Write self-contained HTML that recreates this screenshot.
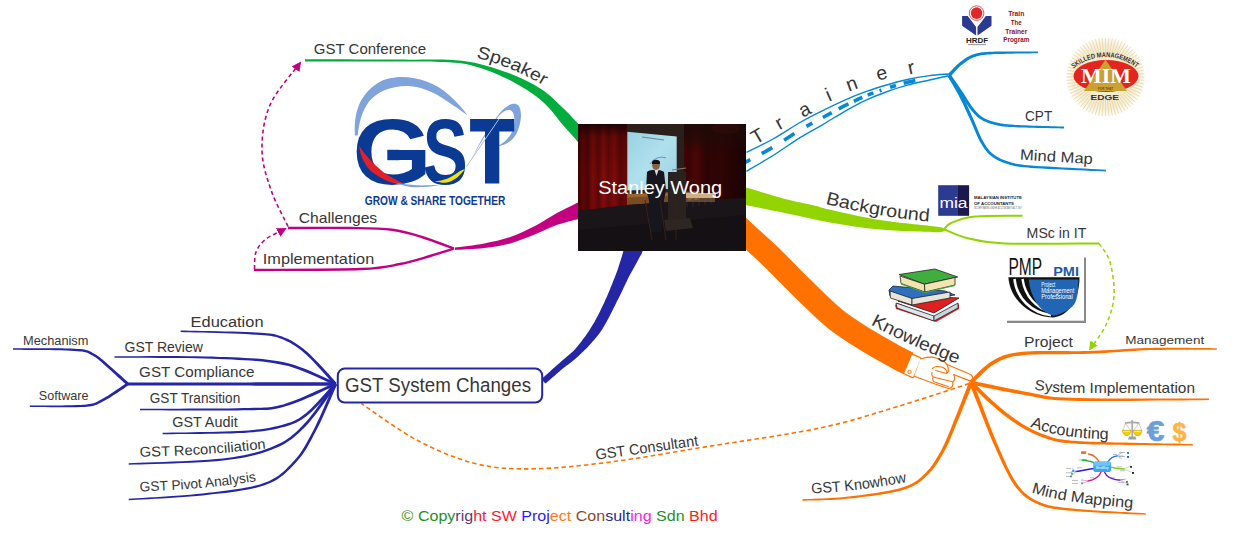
<!DOCTYPE html>
<html><head><meta charset="utf-8"><style>
html,body{margin:0;padding:0;background:#fff;}
body{width:1236px;height:536px;overflow:hidden;}
svg{display:block;font-family:"Liberation Sans", sans-serif;}
</style></head><body>
<svg width="1236" height="536" viewBox="0 0 1236 536">
<rect width="1236" height="536" fill="#fff"/>
<defs>
<marker id="arrM" viewBox="0 0 10 10" refX="8" refY="5" markerWidth="6" markerHeight="6" orient="auto"><path d="M0,0 L10,5 L0,10 Z" fill="#C40082"/></marker>
<marker id="arrL" viewBox="0 0 10 10" refX="8" refY="5" markerWidth="6" markerHeight="6" orient="auto"><path d="M0,0 L10,5 L0,10 Z" fill="#92D400"/></marker>
<linearGradient id="curt" x1="0" x2="1" y1="0" y2="0">
<stop offset="0" stop-color="#3a0303"/><stop offset="0.1" stop-color="#5e0606"/><stop offset="0.2" stop-color="#4a0505"/><stop offset="0.3" stop-color="#7a0a0a"/><stop offset="0.42" stop-color="#5a0606"/><stop offset="0.52" stop-color="#820c0c"/><stop offset="0.62" stop-color="#620707"/><stop offset="0.74" stop-color="#7e0b0b"/><stop offset="0.86" stop-color="#5a0606"/><stop offset="1" stop-color="#6a0808"/>
</linearGradient>
<linearGradient id="curtTop" x1="0" x2="0" y1="0" y2="1"><stop offset="0" stop-color="#120202" stop-opacity="0.85"/><stop offset="0.25" stop-color="#120202" stop-opacity="0.2"/><stop offset="1" stop-color="#120202" stop-opacity="0"/></linearGradient>
<linearGradient id="scr" x1="0" x2="1" y1="0" y2="1">
<stop offset="0" stop-color="#98d2e2"/><stop offset="0.5" stop-color="#b0e0ec"/><stop offset="1" stop-color="#9ccfe0"/>
</linearGradient>
<linearGradient id="curtR" x1="0" x2="1" y1="0" y2="0">
<stop offset="0" stop-color="#4e0606"/><stop offset="0.12" stop-color="#380404"/><stop offset="0.25" stop-color="#4a0606"/><stop offset="0.4" stop-color="#2c0303"/><stop offset="0.6" stop-color="#300404"/><stop offset="1" stop-color="#1a0202"/>
</linearGradient>
<linearGradient id="topfade" x1="0" x2="0" y1="0" y2="1"><stop offset="0" stop-color="#1c0b09" stop-opacity="0.95"/><stop offset="0.5" stop-color="#1c0b09" stop-opacity="0.6"/><stop offset="1" stop-color="#1c0b09" stop-opacity="0"/></linearGradient>
<radialGradient id="mimbg" cx="0.5" cy="0.5" r="0.5"><stop offset="0" stop-color="#f3e7c0"/><stop offset="0.8" stop-color="#f6efd8"/><stop offset="1" stop-color="#fff"/></radialGradient>
</defs>
<path d="M305.0,59.2 C320.8,59.3 373.8,59.3 400.0,59.6 C426.2,59.9 444.2,58.6 462.0,60.8 C479.8,62.9 493.8,67.8 507.0,72.5 C520.2,77.2 531.7,83.1 541.0,89.0 C550.3,94.9 556.8,102.2 563.0,108.0 C569.2,113.8 575.5,120.9 578.0,123.5 L579.0,143.0 C576.3,140.0 569.3,132.1 563.0,125.0 C556.7,117.9 550.3,107.9 541.0,100.2 C531.7,92.5 518.8,84.7 507.0,78.8 C495.2,72.9 481.2,67.8 470.0,65.0 C458.8,62.2 451.7,62.6 440.0,62.0 C428.3,61.4 422.5,61.7 400.0,61.6 C377.5,61.5 320.8,61.4 305.0,61.4 Z" fill="#02AD3E"/>
<text x="313.8" y="53.7" font-size="14.2" fill="#363636" textLength="112.4" lengthAdjust="spacingAndGlyphs" text-anchor="start" >GST Conference</text>
<path id="tp1" d="M476,57.5 Q511,66 546,87" fill="none"/>
<text font-size="17.5" fill="#363636"><textPath href="#tp1" textLength="73.5" lengthAdjust="spacingAndGlyphs">Speaker</textPath></text>
<path d="M455.0,247.6 C459.9,246.9 475.0,245.3 484.2,243.5 C493.4,241.7 501.6,240.0 510.3,237.0 C519.0,234.0 528.8,229.2 536.4,225.3 C544.0,221.4 549.0,217.3 556.0,213.5 C563.0,209.7 574.8,204.1 578.5,202.2 L578.5,219.0 C574.8,220.1 563.0,222.8 556.0,225.3 C549.0,227.8 544.0,230.8 536.4,233.8 C528.8,236.8 519.0,241.1 510.3,243.5 C501.6,245.9 493.4,247.0 484.2,248.1 C475.0,249.2 459.9,249.7 455.0,250.0 Z" fill="#C40082"/>
<path d="M288.0,228.0 C298.3,228.0 332.7,227.7 350.0,228.0 C367.3,228.3 380.0,228.3 392.0,229.8 C404.0,231.3 411.7,233.8 422.0,237.0 C432.3,240.2 448.7,246.8 454.0,248.7" fill="none" stroke="#C40082" stroke-width="2.4"/>
<path d="M254.0,270.0 C271.8,269.8 336.7,270.0 361.0,269.0 C385.3,268.0 388.5,266.2 400.0,264.0 C411.5,261.8 421.0,258.6 430.0,256.0 C439.0,253.4 450.0,249.9 454.0,248.7" fill="none" stroke="#C40082" stroke-width="2.4"/>
<path d="M288.0,226.5 C285.2,220.4 275.3,202.8 271.0,190.0 C266.7,177.2 262.2,164.2 262.0,150.0 C261.8,135.8 263.7,119.5 270.0,105.0 C276.3,90.5 295.0,70.0 300.0,63.0" fill="none" stroke="#C40082" stroke-width="1.6" stroke-dasharray="4,3" marker-end="url(#arrM)"/>
<path d="M254.5,269.0 C254.8,266.2 254.1,257.0 256.0,252.0 C257.9,247.0 261.2,242.8 266.0,239.0 C270.8,235.2 281.8,230.7 285.0,229.0" fill="none" stroke="#C40082" stroke-width="1.6" stroke-dasharray="4,3" marker-end="url(#arrM)"/>
<text x="298.8" y="222.7" font-size="14.8" fill="#363636" textLength="78.4" lengthAdjust="spacingAndGlyphs" text-anchor="start" >Challenges</text>
<text x="262.8" y="264.0" font-size="14.5" fill="#363636" textLength="111.4" lengthAdjust="spacingAndGlyphs" text-anchor="start" >Implementation</text>
<path d="M355,135.5 C353.5,112 360,95 377,83.5 C395,72 428,76 449,95 C457,102 463,109 467.6,115.3 C461,111 457,107.5 452.5,105 C440,95.5 425,87 408.8,86 C391,85.5 377,92 369,101.5 C362,111 358.8,123 357.8,135.5 Z" fill="#7fa4dc"/>
<path d="M472.6,157.3 C480,141 489,127 499,114 C506,105 514,101.5 518.5,105.5 C523,111 521,127 515,136 C511,142 504,146 497,146.5 C504,143 509.5,138 512.5,131 C515.5,123 515,113 511,110.5 C506,108.5 501,113 497,118.5 C489,130 480,143 472.6,157.3 Z" fill="#7fa4dc"/>
<text transform="translate(352.53,183.7) scale(1.094,1)" x="0" y="0" font-size="93" font-weight="bold" fill="#0B3A95">G</text>
<text transform="translate(422.66,183.7) scale(0.725,1)" x="0" y="0" font-size="93" font-weight="bold" fill="#0B3A95">S</text>
<path d="M470.1,119 L514.2,119 L514.2,131.6 L499.3,131.6 L499.3,183.5 L485,183.5 L485,131.6 L470.1,131.6 Z" fill="#0B3A95"/>
<rect x="387.3" y="149.8" width="12" height="10.4" fill="#0B3A95"/>
<path d="M499,119 L466.4,166.7" stroke="#a9c1ea" stroke-width="1"/>
<path d="M359,145.8 C360,152 361,156 363.4,160.7 C367,167 370,171 375.4,174.2 C381,178 386,181 391.8,182.4 C396,183.5 401,184 405.2,184 C400,182 396.5,180.5 393.8,178.6 C387.5,175 383.5,172.5 380.9,169.9 C375.5,165.5 371.5,161.5 368.7,158.2 C364.5,153.5 361.3,149.5 359,145.8 Z" fill="#e3202a"/>
<path d="M435,181.6 C440,183 443,183 447,182.4 C451,181.5 454,180 457.5,177.2 C461,174 463,172 465,169 C462,170 460,171 457.5,172.7 C454,175 451,177 447,178.7 C443,180 439,181 435,181.6 Z" fill="#f5e400"/>
<path d="M394.8,182.6 C402,186 410,187.5 417.2,187.3 C425,187.2 432,186.5 439.6,185 C430,185 424,185.6 417.2,185.3 C409,185 402,184 394.8,182.6 Z" fill="#7fa4dc"/>
<text x="364.8" y="204.6" font-size="12.6" font-weight="bold" fill="#0B3A95" textLength="140.5" lengthAdjust="spacingAndGlyphs">GROW &amp; SHARE TOGETHER</text>
<path d="M746.4,152.4 C750.8,150.2 764.1,144.0 773.0,139.0 C781.9,134.0 791.8,127.2 800.0,122.5 C808.2,117.8 814.9,114.5 822.4,110.8 C829.9,107.1 837.3,103.4 844.8,100.1 C852.2,96.8 860.4,93.6 867.1,91.2 C873.8,88.8 878.1,87.5 884.8,85.5 C891.5,83.5 899.7,81.2 907.2,79.5 C914.7,77.8 922.7,76.5 929.6,75.6 C936.5,74.7 945.4,74.3 948.6,74.0" fill="none" stroke="#0688D4" stroke-width="1.4"/>
<path d="M746.4,171.3 C750.8,168.7 764.1,161.1 773.0,155.5 C781.9,149.9 791.8,142.7 800.0,137.6 C808.2,132.5 814.9,129.2 822.4,124.8 C829.9,120.4 837.3,115.5 844.8,111.3 C852.2,107.1 860.4,102.7 867.1,99.6 C873.8,96.5 878.1,94.9 884.8,92.5 C891.5,90.1 899.7,87.3 907.2,85.2 C914.7,83.1 922.7,81.6 929.6,80.0 C936.5,78.4 945.4,76.4 948.6,75.7" fill="none" stroke="#0688D4" stroke-width="1.4"/>
<path d="M745.0,162.5 C749.7,160.0 763.8,152.7 773.0,147.2 C782.2,141.8 791.8,135.0 800.0,130.1 C808.2,125.1 814.9,121.9 822.4,117.8 C829.9,113.7 837.3,109.4 844.8,105.7 C852.2,102.0 860.4,98.2 867.1,95.4 C873.8,92.6 878.1,91.2 884.8,89.0 C891.5,86.8 899.7,84.2 907.2,82.3 C914.7,80.5 922.7,79.0 929.6,77.8 C936.5,76.5 945.4,75.3 948.6,74.8" fill="none" stroke="#0688D4" stroke-width="3.6" stroke-dasharray="6,13,12,14,12,14,7,12,10,8,11,6,9,6,6,7,2,9,6,8,12,60"/>
<text x="757.3" y="135.8" font-size="19.5" fill="#363636" text-anchor="middle" dominant-baseline="central" transform="rotate(-30 757.3 135.8)">T</text>
<text x="779.0" y="122.5" font-size="19.5" fill="#363636" text-anchor="middle" dominant-baseline="central" transform="rotate(-29 779.0 122.5)">r</text>
<text x="804.3" y="109.0" font-size="19.5" fill="#363636" text-anchor="middle" dominant-baseline="central" transform="rotate(-27 804.3 109.0)">a</text>
<text x="828.2" y="94.5" font-size="19.5" fill="#363636" text-anchor="middle" dominant-baseline="central" transform="rotate(-24 828.2 94.5)">i</text>
<text x="851.6" y="83.2" font-size="19.5" fill="#363636" text-anchor="middle" dominant-baseline="central" transform="rotate(-20 851.6 83.2)">n</text>
<text x="881.5" y="72.5" font-size="19.5" fill="#363636" text-anchor="middle" dominant-baseline="central" transform="rotate(-15 881.5 72.5)">e</text>
<text x="911.0" y="67.0" font-size="19.5" fill="#363636" text-anchor="middle" dominant-baseline="central" transform="rotate(-12 911.0 67.0)">r</text>
<path d="M950.4,76.5 L950.9,75.9 L951.6,75.2 L952.5,74.3 L953.4,73.3 L954.4,72.2 L955.4,71.0 L956.5,69.9 L957.6,68.7 L958.7,67.6 L959.8,66.6 L960.9,65.6 L961.9,64.7 L962.9,64.0 L963.9,63.2 L964.9,62.4 L965.9,61.7 L966.9,61.0 L967.9,60.3 L968.9,59.7 L969.9,59.1 L971.0,58.5 L972.1,58.0 L973.3,57.5 L974.5,57.1 L975.7,56.7 L976.8,56.3 L977.9,56.0 L979.0,55.7 L980.1,55.5 L981.3,55.3 L982.6,55.1 L984.0,54.9 L985.7,54.8 L987.6,54.6 L989.8,54.5 L992.3,54.3 L995.2,54.1 L998.8,54.0 L1002.8,53.9 L1007.1,53.8 L1011.7,53.7 L1016.2,53.6 L1020.8,53.5 L1025.1,53.4 L1029.1,53.4 L1032.7,53.3 L1035.7,53.2 L1038.0,53.2 L1038.0,51.4 L1035.7,51.4 L1032.7,51.4 L1029.1,51.4 L1025.1,51.4 L1020.8,51.4 L1016.2,51.4 L1011.6,51.4 L1007.1,51.4 L1002.8,51.5 L998.7,51.5 L995.1,51.6 L992.1,51.7 L989.6,51.8 L987.4,51.9 L985.5,52.1 L983.8,52.2 L982.2,52.3 L980.8,52.5 L979.6,52.7 L978.4,53.0 L977.2,53.2 L976.0,53.5 L974.8,53.9 L973.5,54.3 L972.2,54.8 L970.9,55.3 L969.7,55.8 L968.5,56.4 L967.3,57.1 L966.2,57.7 L965.1,58.4 L964.1,59.1 L963.0,59.9 L962.0,60.7 L961.0,61.4 L959.9,62.3 L958.8,63.2 L957.6,64.2 L956.4,65.3 L955.3,66.4 L954.1,67.6 L953.0,68.7 L951.9,69.9 L950.9,70.9 L949.9,71.9 L949.1,72.8 L948.4,73.5 L947.8,74.1 Z" fill="#0688D4"/>
<path d="M947.7,76.3 L948.2,77.1 L949.0,78.2 L949.8,79.4 L950.8,80.7 L951.9,82.2 L953.0,83.7 L954.1,85.3 L955.3,87.0 L956.4,88.6 L957.5,90.2 L958.6,91.7 L959.6,93.1 L960.5,94.5 L961.4,95.8 L962.2,97.2 L963.1,98.6 L964.0,100.0 L964.9,101.3 L965.7,102.7 L966.6,104.0 L967.5,105.3 L968.3,106.6 L969.2,107.8 L970.1,108.9 L971.0,110.0 L971.8,111.0 L972.7,112.0 L973.5,113.0 L974.3,113.9 L975.2,114.8 L976.0,115.7 L976.9,116.6 L977.9,117.4 L978.9,118.1 L979.9,118.9 L981.1,119.6 L982.2,120.3 L983.4,120.9 L984.7,121.5 L985.9,122.1 L987.2,122.6 L988.5,123.1 L989.9,123.5 L991.3,123.9 L992.7,124.3 L994.2,124.7 L995.7,125.1 L997.2,125.4 L998.7,125.7 L1000.2,125.9 L1001.6,126.2 L1003.0,126.4 L1004.4,126.5 L1006.0,126.7 L1007.6,126.8 L1009.3,126.9 L1011.2,127.0 L1013.4,127.1 L1015.7,127.3 L1018.3,127.4 L1021.4,127.5 L1025.1,127.6 L1029.1,127.7 L1033.4,127.8 L1037.9,127.9 L1042.5,128.0 L1047.0,128.1 L1051.2,128.2 L1055.2,128.2 L1058.7,128.3 L1061.7,128.4 L1064.0,128.4 L1064.0,126.6 L1061.7,126.5 L1058.8,126.4 L1055.2,126.3 L1051.3,126.2 L1047.0,126.1 L1042.5,125.9 L1038.0,125.8 L1033.5,125.7 L1029.2,125.5 L1025.1,125.3 L1021.5,125.2 L1018.5,125.0 L1015.8,124.9 L1013.5,124.7 L1011.4,124.6 L1009.5,124.5 L1007.8,124.3 L1006.2,124.2 L1004.7,124.0 L1003.3,123.8 L1002.0,123.6 L1000.6,123.4 L999.2,123.1 L997.8,122.8 L996.3,122.5 L994.8,122.1 L993.4,121.7 L992.1,121.3 L990.7,120.9 L989.5,120.5 L988.2,120.0 L987.0,119.5 L985.8,119.0 L984.7,118.4 L983.6,117.8 L982.5,117.2 L981.5,116.5 L980.6,115.9 L979.7,115.1 L978.9,114.4 L978.1,113.6 L977.3,112.8 L976.5,112.0 L975.7,111.1 L974.9,110.1 L974.1,109.2 L973.3,108.1 L972.5,107.1 L971.6,106.0 L970.8,104.8 L970.0,103.6 L969.2,102.3 L968.3,101.0 L967.5,99.7 L966.7,98.3 L965.8,96.9 L964.9,95.5 L964.1,94.1 L963.2,92.7 L962.2,91.3 L961.3,89.9 L960.2,88.3 L959.1,86.7 L958.0,85.1 L956.9,83.4 L955.7,81.8 L954.6,80.2 L953.6,78.7 L952.7,77.4 L951.8,76.2 L951.1,75.1 L950.5,74.3 Z" fill="#0688D4"/>
<path d="M947.6,76.2 L948.2,77.2 L948.9,78.4 L949.8,79.9 L950.7,81.5 L951.8,83.3 L952.9,85.2 L954.0,87.2 L955.2,89.2 L956.3,91.2 L957.4,93.2 L958.5,95.1 L959.4,97.0 L960.3,98.7 L961.2,100.5 L962.1,102.3 L963.0,104.1 L963.9,106.0 L964.7,107.8 L965.6,109.7 L966.4,111.5 L967.3,113.4 L968.1,115.3 L969.0,117.1 L969.9,119.0 L970.8,121.0 L971.6,123.0 L972.5,125.0 L973.4,127.1 L974.3,129.2 L975.2,131.3 L976.1,133.4 L977.0,135.4 L977.8,137.3 L978.7,139.2 L979.6,141.0 L980.5,142.6 L981.4,144.1 L982.3,145.5 L983.1,146.8 L983.9,148.0 L984.7,149.2 L985.6,150.3 L986.4,151.3 L987.3,152.4 L988.2,153.3 L989.2,154.3 L990.2,155.2 L991.3,156.1 L992.5,156.9 L993.7,157.8 L994.9,158.6 L996.1,159.3 L997.4,160.0 L998.7,160.7 L1000.1,161.3 L1001.5,161.9 L1002.9,162.5 L1004.4,163.0 L1006.0,163.6 L1007.6,164.0 L1009.1,164.5 L1010.5,164.9 L1011.8,165.3 L1013.0,165.6 L1014.3,165.9 L1015.8,166.2 L1017.4,166.5 L1019.4,166.8 L1021.6,167.1 L1024.3,167.3 L1027.5,167.6 L1031.3,167.9 L1036.0,168.2 L1041.7,168.6 L1048.1,168.9 L1055.1,169.3 L1062.5,169.6 L1070.1,169.9 L1077.5,170.3 L1084.6,170.6 L1091.3,170.9 L1097.2,171.1 L1102.1,171.3 L1105.9,171.5 L1105.9,169.7 L1102.2,169.5 L1097.2,169.2 L1091.4,168.9 L1084.7,168.6 L1077.6,168.2 L1070.2,167.8 L1062.6,167.4 L1055.3,167.0 L1048.2,166.6 L1041.8,166.2 L1036.1,165.9 L1031.5,165.5 L1027.7,165.2 L1024.6,164.9 L1021.9,164.6 L1019.7,164.3 L1017.8,164.0 L1016.3,163.7 L1014.9,163.5 L1013.7,163.1 L1012.5,162.8 L1011.2,162.4 L1009.9,162.0 L1008.4,161.6 L1006.8,161.1 L1005.3,160.5 L1003.9,160.0 L1002.5,159.5 L1001.2,158.9 L999.9,158.3 L998.7,157.6 L997.5,157.0 L996.3,156.3 L995.2,155.5 L994.1,154.7 L993.1,153.9 L992.0,153.1 L991.1,152.2 L990.2,151.4 L989.4,150.5 L988.6,149.5 L987.8,148.6 L987.0,147.5 L986.2,146.4 L985.5,145.3 L984.7,144.0 L983.9,142.6 L983.1,141.2 L982.2,139.6 L981.4,137.9 L980.5,136.1 L979.7,134.2 L978.8,132.2 L977.9,130.1 L977.1,128.0 L976.2,125.9 L975.3,123.8 L974.5,121.8 L973.6,119.7 L972.7,117.8 L971.9,115.9 L971.0,114.0 L970.2,112.1 L969.3,110.2 L968.5,108.3 L967.6,106.5 L966.8,104.6 L965.9,102.8 L965.1,100.9 L964.2,99.1 L963.3,97.3 L962.4,95.4 L961.4,93.6 L960.3,91.6 L959.2,89.6 L958.1,87.5 L957.0,85.5 L955.8,83.5 L954.7,81.6 L953.7,79.8 L952.8,78.2 L951.9,76.7 L951.2,75.4 L950.6,74.4 Z" fill="#0688D4"/>
<text x="1025.0" y="120.5" font-size="14.5" fill="#363636" textLength="27.2" lengthAdjust="spacingAndGlyphs" text-anchor="start" >CPT</text>
<text x="1019.8" y="159.6" font-size="15.0" fill="#363636" textLength="72.9" lengthAdjust="spacingAndGlyphs" transform="rotate(3.50 1019.8 159.6)" text-anchor="start" >Mind Map</text>
<circle cx="976.6" cy="13.1" r="7.3" fill="none" stroke="#e02828" stroke-width="0.8"/>
<circle cx="976.6" cy="13.1" r="5.8" fill="#e02828"/>
<path d="M962.1,15.9 L967.7,15.9 L976.1,27 L976.1,35.4 L962.1,25.7 Z M991.5,15.9 L985.9,15.9 L977.5,27 L977.5,35.4 L991.5,25.7 Z" fill="#2b3990"/>
<text x="977" y="42.9" font-size="7" font-weight="bold" fill="#222" text-anchor="middle" textLength="22" lengthAdjust="spacingAndGlyphs">HRDF</text>
<rect x="968" y="44.3" width="18" height="0.8" fill="#777"/>
<text x="1016.3" y="15.9" font-size="7" font-weight="bold" fill="#8b0f2c" text-anchor="middle" textLength="16" lengthAdjust="spacingAndGlyphs">Train</text>
<text x="1016.3" y="24.7" font-size="7" font-weight="bold" fill="#8b0f2c" text-anchor="middle" textLength="11" lengthAdjust="spacingAndGlyphs">The</text>
<text x="1016.3" y="33.6" font-size="7" font-weight="bold" fill="#8b0f2c" text-anchor="middle" textLength="22" lengthAdjust="spacingAndGlyphs">Trainer</text>
<text x="1016.3" y="42.4" font-size="7" font-weight="bold" fill="#8b0f2c" text-anchor="middle" textLength="26" lengthAdjust="spacingAndGlyphs">Program</text>
<circle cx="1105.5" cy="77" r="40" fill="url(#mimbg)"/>
<path d="M1127.5,77.0 L1144.5,77.0 M1127.4,78.9 L1144.4,80.4 M1127.2,80.8 L1143.9,83.8 M1126.8,82.7 L1143.2,87.1 M1126.2,84.5 L1142.1,90.3 M1125.4,86.3 L1140.8,93.5 M1124.6,88.0 L1139.3,96.5 M1123.5,89.6 L1137.4,99.4 M1122.4,91.1 L1135.4,102.1 M1121.1,92.6 L1133.1,104.6 M1119.6,93.9 L1130.6,106.9 M1118.1,95.0 L1127.9,108.9 M1116.5,96.1 L1125.0,110.8 M1114.8,96.9 L1122.0,112.3 M1113.0,97.7 L1118.8,113.6 M1111.2,98.3 L1115.6,114.7 M1109.3,98.7 L1112.3,115.4 M1107.4,98.9 L1108.9,115.9 M1105.5,99.0 L1105.5,116.0 M1103.6,98.9 L1102.1,115.9 M1101.7,98.7 L1098.7,115.4 M1099.8,98.3 L1095.4,114.7 M1098.0,97.7 L1092.2,113.6 M1096.2,96.9 L1089.0,112.3 M1094.5,96.1 L1086.0,110.8 M1092.9,95.0 L1083.1,108.9 M1091.4,93.9 L1080.4,106.9 M1089.9,92.6 L1077.9,104.6 M1088.6,91.1 L1075.6,102.1 M1087.5,89.6 L1073.6,99.4 M1086.4,88.0 L1071.7,96.5 M1085.6,86.3 L1070.2,93.5 M1084.8,84.5 L1068.9,90.3 M1084.2,82.7 L1067.8,87.1 M1083.8,80.8 L1067.1,83.8 M1083.6,78.9 L1066.6,80.4 M1083.5,77.0 L1066.5,77.0 M1083.6,75.1 L1066.6,73.6 M1083.8,73.2 L1067.1,70.2 M1084.2,71.3 L1067.8,66.9 M1084.8,69.5 L1068.9,63.7 M1085.6,67.7 L1070.2,60.5 M1086.4,66.0 L1071.7,57.5 M1087.5,64.4 L1073.6,54.6 M1088.6,62.9 L1075.6,51.9 M1089.9,61.4 L1077.9,49.4 M1091.4,60.1 L1080.4,47.1 M1092.9,59.0 L1083.1,45.1 M1094.5,57.9 L1086.0,43.2 M1096.2,57.1 L1089.0,41.7 M1098.0,56.3 L1092.2,40.4 M1099.8,55.7 L1095.4,39.3 M1101.7,55.3 L1098.7,38.6 M1103.6,55.1 L1102.1,38.1 M1105.5,55.0 L1105.5,38.0 M1107.4,55.1 L1108.9,38.1 M1109.3,55.3 L1112.3,38.6 M1111.2,55.7 L1115.6,39.3 M1113.0,56.3 L1118.8,40.4 M1114.8,57.1 L1122.0,41.7 M1116.5,57.9 L1125.0,43.2 M1118.1,59.0 L1127.9,45.1 M1119.6,60.1 L1130.6,47.1 M1121.1,61.4 L1133.1,49.4 M1122.4,62.9 L1135.4,51.9 M1123.5,64.4 L1137.4,54.6 M1124.6,66.0 L1139.3,57.5 M1125.4,67.7 L1140.8,60.5 M1126.2,69.5 L1142.1,63.7 M1126.8,71.3 L1143.2,66.9 M1127.2,73.2 L1143.9,70.2 M1127.4,75.1 L1144.4,73.6" stroke="#e2cf98" stroke-width="0.7"/>
<ellipse cx="1106" cy="76" rx="32.5" ry="16" fill="#e4241e"/>
<path d="M1105.5,59.5 L1127,91 L1084,91 Z" fill="#c9a231"/>
<text x="1106" y="83" font-family="Liberation Serif" font-size="21" font-weight="bold" fill="#fff" text-anchor="middle" textLength="50" lengthAdjust="spacingAndGlyphs">MIM</text>
<text x="1104.8" y="100.3" font-size="7.5" font-weight="bold" fill="#333" text-anchor="middle" textLength="28.5" lengthAdjust="spacingAndGlyphs">EDGE</text>
<text x="1105.5" y="89.5" font-size="3.5" font-weight="bold" fill="#7a4a10" text-anchor="middle" textLength="15" lengthAdjust="spacingAndGlyphs">FOR THAT</text>
<path id="mimarc" d="M1073.5,68.5 A50.6,50.6 0 0 1 1137.5,68.5" fill="none"/>
<text font-size="7" font-weight="bold" fill="#333"><textPath href="#mimarc" textLength="68" lengthAdjust="spacingAndGlyphs">SKILLED MANAGEMENT</textPath></text>
<path d="M745.5,187.3 C752.1,189.2 773.4,195.9 785.0,199.0 C796.6,202.1 807.5,203.9 815.0,205.7 C822.5,207.5 819.2,207.3 830.0,209.7 C840.8,212.1 862.5,217.2 880.0,220.0 C897.5,222.8 924.2,225.1 935.0,226.5 C945.8,227.9 943.3,228.2 945.0,228.6 L945.0,230.5 C943.3,230.8 945.8,232.3 935.0,232.2 C924.2,232.0 897.5,231.2 880.0,229.6 C862.5,228.0 845.8,225.3 830.0,222.5 C814.2,219.7 799.1,215.9 785.0,213.0 C770.9,210.1 752.1,206.2 745.5,204.9 Z" fill="#92D400"/>
<path d="M944.5,229.0 C945.6,228.0 945.9,225.1 951.0,223.0 C956.1,220.9 963.1,217.8 975.0,216.6 C986.9,215.4 1014.6,215.9 1022.5,215.8" fill="none" stroke="#92D400" stroke-width="2"/>
<path d="M944.5,229.5 C948.2,230.9 956.9,235.7 967.0,238.0 C977.1,240.3 983.0,242.5 1005.0,243.4 C1027.0,244.3 1083.3,243.4 1099.0,243.4" fill="none" stroke="#92D400" stroke-width="2"/>
<path d="M1099.0,243.4 C1100.8,246.5 1107.5,253.2 1110.0,262.0 C1112.5,270.8 1114.7,285.5 1114.0,296.0 C1113.3,306.5 1110.0,316.2 1106.0,325.0 C1102.0,333.8 1092.7,345.0 1090.0,349.0" fill="none" stroke="#92D400" stroke-width="1.5" stroke-dasharray="4,3" marker-end="url(#arrL)"/>
<path id="tp2" d="M825.3,203.6 Q877,217 930,221.5" fill="none"/>
<text font-size="18.0" fill="#363636"><textPath href="#tp2" textLength="105.5" lengthAdjust="spacingAndGlyphs">Background</textPath></text>
<text x="1026.6" y="237.5" font-size="14.1" fill="#363636" textLength="59.8" lengthAdjust="spacingAndGlyphs" text-anchor="start" >MSc in IT</text>
<rect x="938.2" y="185.2" width="19" height="30.6" fill="#2b3b8f"/>
<rect x="957.2" y="185.2" width="11.9" height="30.6" fill="#1b1850"/>
<text x="953.5" y="208.4" font-size="14" fill="#fff" text-anchor="middle" textLength="28" lengthAdjust="spacingAndGlyphs">mia</text>
<text x="974" y="199.4" font-size="4.2" font-weight="bold" fill="#222" textLength="47.8" lengthAdjust="spacingAndGlyphs">MALAYSIAN INSTITUTE</text>
<text x="974" y="204.6" font-size="4.2" font-weight="bold" fill="#222" textLength="40" lengthAdjust="spacingAndGlyphs">OF ACCOUNTANTS</text>
<text x="974" y="209" font-size="3" fill="#666" textLength="47.8" lengthAdjust="spacingAndGlyphs">INCORPORATED UNDER ACCOUNTANTS ACT 1967</text>
<rect x="1007" y="257.5" width="79" height="65.5" fill="#8a8a8a"/>
<rect x="1004.9" y="254.2" width="79.1" height="66.5" fill="#fff"/>
<text x="1008.4" y="274.5" font-size="24" fill="#111" textLength="33.6" lengthAdjust="spacingAndGlyphs">PMP</text>
<text x="1053.2" y="275.9" font-size="13" font-weight="bold" fill="#1e5aa8" textLength="25.8" lengthAdjust="spacingAndGlyphs">PMI</text>
<path d="M1008.4,277.3 L1079.5,277.3 C1079.5,300 1068,316.5 1053,317.5 C1030,317 1010,300 1008.4,277.3 Z" fill="#111"/>
<path d="M1014.5,279 C1016.5,298 1031,312.5 1051,315.3" fill="none" stroke="#fff" stroke-width="2.6"/>
<path d="M1022.5,279 C1025,296 1036,308.5 1051,311.8" fill="none" stroke="#fff" stroke-width="2.4"/>
<path d="M1028.7,279.4 L1078.4,279.4 C1078.4,292 1077,302 1072.8,306 C1068,311 1060,314.5 1053.2,315.8 C1046,313 1040,309 1036,302 C1032,295 1029.5,288 1028.7,279.4 Z" fill="#2066b4"/>
<text x="1041.3" y="287.1" font-size="6.3" fill="#fff" textLength="14.0" lengthAdjust="spacingAndGlyphs">Project</text>
<text x="1041.3" y="292.7" font-size="6.3" fill="#fff" textLength="33.0" lengthAdjust="spacingAndGlyphs">Management</text>
<text x="1041.3" y="299.0" font-size="6.3" fill="#fff" textLength="31.5" lengthAdjust="spacingAndGlyphs">Professional</text>
<path d="M736.0,224.5 C737.6,226.0 739.8,228.2 745.7,233.7 C751.7,239.2 762.1,248.2 771.7,257.5 C781.3,266.8 792.9,279.0 803.4,289.2 C813.9,299.4 824.5,310.3 835.0,318.8 C845.5,327.3 856.1,333.7 866.7,340.3 C877.3,346.9 891.5,354.6 898.4,358.4 C905.3,362.2 906.4,362.4 908.0,363.2" fill="none" stroke="#FF7200" stroke-width="23.5"/>
<path d="M911.8,353.9 L920.2,357.6 Q921.5,358.3 921,359.6 L914,376.6 Q913.4,377.9 912,377.4 L903.4,373.5 Z" fill="#fff" stroke="#FF7200" stroke-width="1.2" stroke-linejoin="round"/>
<circle cx="909.5" cy="372" r="1.7" fill="none" stroke="#FF7200" stroke-width="1"/>
<path d="M920.6,358.8 C926,357.5 931,356 936,358 C941,359.5 944.5,361.5 947,364.5 L969.5,374 C974.5,376.2 972.8,381.8 968.5,380.4 L953.5,374.5 C955.5,377 955,380.5 952.5,382 C954,384.5 952,389 947.5,388.2 L935,384 L914.2,376.2" fill="#fff" stroke="#FF7200" stroke-width="1.2" stroke-linejoin="round"/>
<path d="M947,364.5 C948.5,368 949,371 947.5,373 M932.5,368.5 C934,366 939,366 943,367.5 C946,369 947.5,371.5 946.5,373.5 L935.5,370.5 M932,372.5 C931,375 932.5,377 935,377.5 L951.5,381.5 M933,377 C932,380 933.5,382 936,382.5 L948,386.5" fill="none" stroke="#FF7200" stroke-width="1.1" stroke-linejoin="round" stroke-linecap="round"/>
<path id="tp3" d="M870.5,324.5 Q912,347 963,366" fill="none"/>
<text font-size="18.0" fill="#363636"><textPath href="#tp3" textLength="95.5" lengthAdjust="spacingAndGlyphs">Knowledge</textPath></text>
<path d="M895,305 L898,303 L936,318 L959,304 L959,309 L936,322 L896,309 Z" fill="#e02020"/>
<path d="M896,303 L934,316 L934,321 L897,308 Z" fill="#dde6ee" stroke="#222" stroke-width="0.8"/>
<path d="M934,316 L958,303 L958,308 L934,321 Z" fill="#c8d4de" stroke="#222" stroke-width="0.8"/>
<path d="M898,301 L925,296 L959,298 L934,313 Z" fill="#e02020" stroke="#222" stroke-width="0.8"/>
<path d="M889,290 L893,286 L945,291 L955,295 L912,301 L890,296 Z" fill="#2e6fc0" stroke="#222" stroke-width="0.8"/>
<path d="M890,291 L912,298.5 L912,305 L890.4,298 Z" fill="#e8e4d6" stroke="#222" stroke-width="0.8"/>
<path d="M912,298.5 L950,292 L950,298 L912,305 Z" fill="#e8e4d6" stroke="#222" stroke-width="0.8"/>
<path d="M899,274.5 L935,269 L957.7,277 L924.4,284.2 Z" fill="#3fae3f" stroke="#222" stroke-width="0.8"/>
<path d="M900,276 L924.4,284.2 L925,292 L901,283.5 Z" fill="#f2e3b0" stroke="#222" stroke-width="0.8"/>
<path d="M924.4,284.2 L955,277.5 L955,285 L925,292 Z" fill="#f2e3b0" stroke="#222" stroke-width="0.8"/>
<path d="M901,284 L925,292.5 L955,285.5" fill="none" stroke="#3fae3f" stroke-width="1.2"/>
<path d="M972.4,384.0 L973.5,382.9 L974.8,381.6 L976.3,380.0 L978.0,378.2 L979.8,376.4 L981.8,374.4 L983.8,372.4 L986.0,370.4 L988.1,368.6 L990.3,366.8 L992.4,365.3 L994.4,364.0 L996.5,362.9 L998.4,361.8 L1000.2,360.8 L1002.0,360.0 L1003.9,359.2 L1005.8,358.5 L1007.9,357.8 L1010.2,357.2 L1012.8,356.6 L1015.7,356.1 L1019.0,355.7 L1022.7,355.2 L1026.9,354.8 L1031.6,354.6 L1036.8,354.4 L1042.3,354.3 L1048.1,354.2 L1054.0,354.2 L1060.1,354.2 L1066.3,354.2 L1072.3,354.1 L1078.3,354.1 L1084.1,354.0 L1089.5,353.8 L1094.8,353.6 L1099.9,353.3 L1105.0,353.0 L1109.9,352.6 L1114.8,352.3 L1119.7,351.9 L1124.6,351.5 L1129.5,351.2 L1134.5,350.9 L1139.5,350.6 L1144.6,350.3 L1149.8,350.1 L1155.4,350.0 L1161.4,349.9 L1167.7,349.8 L1174.1,349.7 L1180.6,349.7 L1187.1,349.7 L1193.3,349.7 L1199.2,349.8 L1204.6,349.8 L1209.4,349.8 L1213.5,349.8 L1216.8,349.8 L1216.8,348.2 L1213.5,348.2 L1209.4,348.1 L1204.6,348.1 L1199.2,348.0 L1193.3,347.9 L1187.1,347.8 L1180.6,347.8 L1174.1,347.7 L1167.6,347.7 L1161.3,347.7 L1155.3,347.8 L1149.8,347.9 L1144.5,348.0 L1139.4,348.2 L1134.3,348.5 L1129.4,348.8 L1124.5,349.1 L1119.6,349.4 L1114.7,349.7 L1109.8,350.0 L1104.8,350.3 L1099.8,350.6 L1094.7,350.8 L1089.5,351.0 L1084.0,351.1 L1078.3,351.2 L1072.3,351.2 L1066.3,351.1 L1060.1,351.1 L1054.0,351.0 L1048.1,351.0 L1042.2,351.0 L1036.7,351.1 L1031.5,351.2 L1026.7,351.5 L1022.3,351.8 L1018.5,352.2 L1015.1,352.7 L1012.1,353.2 L1009.4,353.7 L1006.9,354.4 L1004.6,355.1 L1002.5,355.8 L1000.5,356.7 L998.6,357.6 L996.7,358.6 L994.7,359.6 L992.6,360.8 L990.3,362.2 L988.0,363.8 L985.7,365.7 L983.4,367.6 L981.2,369.6 L979.1,371.6 L977.1,373.6 L975.2,375.5 L973.5,377.2 L972.0,378.8 L970.7,380.1 L969.6,381.0 Z" fill="#FF7200"/>
<path d="M970.6,384.5 L973.3,385.0 L976.8,385.7 L980.9,386.5 L985.5,387.5 L990.5,388.5 L995.8,389.6 L1001.3,390.7 L1006.7,391.7 L1012.1,392.8 L1017.3,393.8 L1022.2,394.6 L1026.7,395.4 L1030.5,396.0 L1033.7,396.7 L1036.4,397.2 L1039.0,397.8 L1041.4,398.3 L1044.0,398.8 L1046.9,399.2 L1050.2,399.6 L1054.2,400.0 L1058.9,400.3 L1064.7,400.6 L1071.7,400.8 L1080.3,400.9 L1090.8,401.0 L1102.7,401.0 L1115.7,401.0 L1129.3,400.9 L1143.1,400.8 L1156.8,400.6 L1170.0,400.5 L1182.2,400.4 L1193.0,400.2 L1202.1,400.2 L1209.0,400.1 L1209.0,398.5 L1202.1,398.5 L1193.0,398.5 L1182.2,398.5 L1170.0,398.5 L1156.8,398.5 L1143.1,398.5 L1129.3,398.5 L1115.7,398.4 L1102.7,398.4 L1090.8,398.2 L1080.4,398.1 L1071.7,397.8 L1064.8,397.5 L1059.1,397.2 L1054.4,396.9 L1050.5,396.5 L1047.3,396.1 L1044.5,395.6 L1042.1,395.1 L1039.7,394.6 L1037.2,394.0 L1034.4,393.4 L1031.1,392.7 L1027.3,392.0 L1022.9,391.2 L1018.0,390.3 L1012.8,389.3 L1007.5,388.2 L1002.0,387.1 L996.6,385.9 L991.3,384.8 L986.3,383.7 L981.7,382.7 L977.6,381.9 L974.1,381.1 L971.4,380.5 Z" fill="#FF7200"/>
<path d="M969.6,383.9 L970.5,384.8 L971.5,385.8 L972.8,387.1 L974.2,388.5 L975.8,390.0 L977.4,391.6 L979.2,393.3 L980.9,395.0 L982.7,396.7 L984.4,398.3 L986.1,399.9 L987.7,401.4 L989.3,402.8 L990.9,404.2 L992.5,405.6 L994.1,407.0 L995.7,408.3 L997.3,409.7 L998.9,411.0 L1000.5,412.4 L1002.1,413.7 L1003.7,414.9 L1005.3,416.2 L1006.9,417.4 L1008.6,418.6 L1010.2,419.7 L1011.8,420.9 L1013.4,422.0 L1015.0,423.1 L1016.6,424.2 L1018.2,425.2 L1019.9,426.2 L1021.5,427.2 L1023.0,428.1 L1024.6,429.1 L1026.2,429.9 L1027.8,430.8 L1029.3,431.6 L1030.9,432.3 L1032.4,433.1 L1034.0,433.8 L1035.5,434.5 L1037.0,435.1 L1038.5,435.7 L1040.0,436.3 L1041.5,436.9 L1043.0,437.4 L1044.5,437.9 L1045.9,438.4 L1047.3,438.9 L1048.6,439.4 L1049.9,439.8 L1051.2,440.2 L1052.5,440.6 L1053.8,440.9 L1055.2,441.3 L1056.7,441.6 L1058.3,441.9 L1060.0,442.2 L1061.8,442.4 L1063.7,442.7 L1065.7,442.9 L1067.8,443.1 L1070.0,443.3 L1072.2,443.5 L1074.5,443.6 L1076.8,443.8 L1079.3,443.9 L1081.8,444.0 L1084.5,444.1 L1087.2,444.2 L1089.9,444.3 L1092.8,444.4 L1095.7,444.5 L1098.6,444.5 L1101.6,444.6 L1104.6,444.6 L1107.8,444.7 L1111.1,444.7 L1114.5,444.8 L1118.1,444.8 L1121.9,444.8 L1125.8,444.9 L1130.0,444.9 L1134.6,445.0 L1139.9,445.0 L1145.6,445.1 L1151.6,445.2 L1157.7,445.2 L1163.9,445.3 L1169.9,445.4 L1175.7,445.4 L1181.0,445.5 L1185.7,445.5 L1189.7,445.6 L1192.8,445.6 L1192.8,444.0 L1189.7,443.9 L1185.7,443.9 L1181.0,443.8 L1175.7,443.6 L1169.9,443.5 L1163.9,443.4 L1157.7,443.3 L1151.6,443.2 L1145.6,443.0 L1139.9,442.9 L1134.7,442.8 L1130.0,442.7 L1125.8,442.6 L1121.9,442.5 L1118.1,442.4 L1114.6,442.4 L1111.1,442.3 L1107.8,442.2 L1104.7,442.2 L1101.6,442.1 L1098.7,442.0 L1095.7,441.9 L1092.9,441.8 L1090.1,441.7 L1087.3,441.6 L1084.6,441.4 L1082.0,441.3 L1079.4,441.2 L1077.0,441.0 L1074.7,440.8 L1072.4,440.7 L1070.2,440.5 L1068.1,440.3 L1066.0,440.1 L1064.1,439.8 L1062.2,439.6 L1060.4,439.3 L1058.8,439.0 L1057.3,438.7 L1055.9,438.4 L1054.6,438.0 L1053.3,437.7 L1052.0,437.3 L1050.8,436.9 L1049.5,436.5 L1048.3,436.0 L1046.9,435.6 L1045.5,435.1 L1044.1,434.5 L1042.6,434.0 L1041.2,433.4 L1039.7,432.8 L1038.2,432.2 L1036.8,431.5 L1035.3,430.9 L1033.8,430.2 L1032.3,429.5 L1030.8,428.7 L1029.3,427.9 L1027.8,427.1 L1026.3,426.2 L1024.7,425.3 L1023.2,424.4 L1021.6,423.4 L1020.1,422.4 L1018.5,421.3 L1016.9,420.3 L1015.3,419.2 L1013.8,418.1 L1012.2,416.9 L1010.6,415.8 L1009.1,414.6 L1007.5,413.4 L1005.9,412.2 L1004.3,410.9 L1002.8,409.6 L1001.2,408.3 L999.6,406.9 L998.0,405.6 L996.5,404.2 L994.9,402.8 L993.3,401.4 L991.8,400.0 L990.3,398.6 L988.7,397.2 L987.0,395.6 L985.3,393.9 L983.6,392.3 L981.9,390.5 L980.2,388.9 L978.6,387.2 L977.0,385.7 L975.6,384.3 L974.3,383.0 L973.3,381.9 L972.4,381.1 Z" fill="#FF7200"/>
<path d="M969.1,383.2 L969.5,384.0 L969.8,384.8 L970.2,385.7 L970.6,386.8 L971.0,387.9 L971.6,389.2 L972.1,390.6 L972.8,392.2 L973.5,394.0 L974.3,396.0 L975.2,398.2 L976.2,400.7 L977.3,403.5 L978.6,406.6 L979.9,410.1 L981.3,413.7 L982.8,417.6 L984.4,421.6 L986.0,425.7 L987.7,429.8 L989.3,433.9 L991.0,437.9 L992.6,441.8 L994.3,445.5 L995.9,449.1 L997.5,452.7 L999.2,456.4 L1000.8,460.0 L1002.5,463.7 L1004.2,467.2 L1005.9,470.7 L1007.7,474.1 L1009.4,477.4 L1011.2,480.4 L1013.0,483.3 L1014.8,485.9 L1016.6,488.2 L1018.4,490.3 L1020.1,492.3 L1021.9,494.1 L1023.6,495.7 L1025.4,497.2 L1027.3,498.6 L1029.2,499.8 L1031.2,501.0 L1033.3,502.1 L1035.5,503.2 L1037.8,504.2 L1040.1,505.2 L1042.4,506.0 L1044.6,506.8 L1046.9,507.4 L1049.2,507.9 L1051.7,508.4 L1054.3,508.9 L1057.2,509.3 L1060.3,509.7 L1063.8,510.0 L1067.6,510.4 L1071.9,510.8 L1076.9,511.3 L1082.8,511.7 L1089.3,512.1 L1096.3,512.5 L1103.6,512.9 L1111.0,513.2 L1118.2,513.6 L1125.1,513.9 L1131.6,514.2 L1137.3,514.4 L1142.1,514.6 L1145.8,514.8 L1145.8,513.2 L1142.1,513.0 L1137.3,512.7 L1131.6,512.4 L1125.2,512.1 L1118.3,511.7 L1111.1,511.3 L1103.7,510.9 L1096.4,510.4 L1089.4,510.0 L1082.9,509.5 L1077.1,509.0 L1072.1,508.6 L1067.9,508.1 L1064.1,507.7 L1060.6,507.3 L1057.5,506.8 L1054.7,506.4 L1052.2,506.0 L1049.8,505.5 L1047.5,504.9 L1045.4,504.3 L1043.2,503.6 L1041.1,502.7 L1038.8,501.8 L1036.6,500.8 L1034.5,499.7 L1032.5,498.6 L1030.7,497.5 L1028.9,496.3 L1027.2,495.0 L1025.5,493.6 L1023.8,492.1 L1022.2,490.4 L1020.6,488.5 L1018.9,486.4 L1017.2,484.1 L1015.5,481.6 L1013.8,478.9 L1012.1,475.9 L1010.4,472.7 L1008.7,469.4 L1007.0,465.9 L1005.4,462.3 L1003.7,458.7 L1002.1,455.0 L1000.5,451.4 L998.9,447.7 L997.3,444.1 L995.8,440.5 L994.2,436.6 L992.5,432.6 L990.9,428.5 L989.3,424.4 L987.8,420.3 L986.2,416.3 L984.8,412.4 L983.4,408.7 L982.1,405.3 L980.9,402.1 L979.8,399.3 L978.8,396.8 L977.9,394.6 L977.1,392.6 L976.4,390.8 L975.8,389.2 L975.2,387.7 L974.7,386.4 L974.3,385.3 L973.8,384.3 L973.5,383.3 L973.2,382.5 L972.9,381.8 Z" fill="#FF7200"/>
<path d="M969.1,381.8 L968.5,383.4 L967.7,385.5 L966.8,387.9 L965.8,390.6 L964.6,393.5 L963.4,396.6 L962.2,399.9 L960.9,403.2 L959.6,406.4 L958.3,409.7 L957.1,412.8 L955.9,415.7 L954.8,418.6 L953.6,421.5 L952.5,424.4 L951.3,427.4 L950.1,430.4 L948.9,433.3 L947.8,436.2 L946.5,439.0 L945.3,441.8 L944.1,444.5 L942.8,447.1 L941.6,449.5 L940.3,451.9 L939.0,454.2 L937.7,456.5 L936.4,458.6 L935.1,460.7 L933.8,462.7 L932.5,464.7 L931.1,466.6 L929.7,468.4 L928.2,470.1 L926.6,471.8 L925.0,473.4 L923.3,475.0 L921.8,476.5 L920.2,477.9 L918.7,479.2 L917.1,480.4 L915.4,481.6 L913.6,482.7 L911.7,483.7 L909.5,484.8 L907.1,485.8 L904.4,486.8 L901.4,487.7 L898.0,488.7 L894.2,489.6 L890.1,490.5 L885.7,491.3 L881.1,492.1 L876.3,492.9 L871.5,493.6 L866.7,494.3 L861.9,494.9 L857.2,495.5 L852.7,496.1 L848.4,496.6 L844.2,497.0 L839.8,497.4 L835.3,497.7 L830.8,498.0 L826.4,498.2 L822.1,498.4 L817.9,498.6 L814.1,498.7 L810.5,498.9 L807.3,499.0 L804.6,499.1 L802.4,499.2 L802.4,500.8 L804.6,500.7 L807.4,500.6 L810.5,500.6 L814.1,500.5 L818.0,500.4 L822.2,500.2 L826.5,500.1 L830.9,499.9 L835.4,499.7 L839.9,499.4 L844.4,499.0 L848.6,498.6 L852.9,498.2 L857.4,497.7 L862.1,497.1 L867.0,496.5 L871.8,495.9 L876.7,495.2 L881.5,494.5 L886.1,493.7 L890.6,492.9 L894.8,492.1 L898.7,491.2 L902.2,490.3 L905.3,489.3 L908.1,488.3 L910.6,487.3 L912.9,486.2 L915.0,485.1 L916.9,483.9 L918.7,482.7 L920.4,481.4 L922.1,480.0 L923.7,478.6 L925.3,477.1 L927.0,475.6 L928.7,473.9 L930.4,472.1 L932.0,470.3 L933.5,468.4 L935.0,466.5 L936.4,464.5 L937.8,462.4 L939.1,460.3 L940.4,458.1 L941.8,455.8 L943.1,453.5 L944.4,451.1 L945.8,448.6 L947.1,445.9 L948.4,443.2 L949.6,440.4 L950.9,437.5 L952.1,434.6 L953.3,431.7 L954.5,428.7 L955.7,425.8 L956.9,422.8 L958.1,419.9 L959.3,417.1 L960.5,414.2 L961.8,411.0 L963.1,407.8 L964.4,404.5 L965.7,401.3 L967.0,398.0 L968.2,394.9 L969.4,392.0 L970.5,389.3 L971.4,386.9 L972.2,384.9 L972.9,383.2 Z" fill="#FF7200"/>
<path d="M969.0,383.6 C957.0,387.5 921.8,399.3 897.0,406.7 C872.2,414.1 851.3,421.4 820.0,428.0 C788.7,434.6 743.7,440.7 709.0,446.3 C674.3,451.9 641.0,458.1 611.8,461.8 C582.6,465.6 556.6,468.5 534.0,468.8 C511.4,469.1 495.4,468.5 476.0,463.8 C456.6,459.1 436.8,450.5 417.7,440.5 C398.6,430.5 370.8,409.8 361.4,403.6" fill="none" stroke="#FF7200" stroke-width="1.6" stroke-dasharray="4.5,3"/>
<text x="1024.1" y="346.8" font-size="15.5" fill="#363636" textLength="48.8" lengthAdjust="spacingAndGlyphs" text-anchor="start" >Project</text>
<text x="1125.2" y="344.2" font-size="11.6" fill="#363636" textLength="79.0" lengthAdjust="spacingAndGlyphs" text-anchor="start" >Management</text>
<path id="tp4" d="M1034.2,389.5 Q1055,393 1080,393.1 L1200,393.1" fill="none"/>
<text font-size="14.5" fill="#363636"><textPath href="#tp4" textLength="161.0" lengthAdjust="spacingAndGlyphs">System Implementation</textPath></text>
<path id="tp5" d="M1030.2,426.8 Q1062,439.3 1115,439.3" fill="none"/>
<text font-size="16.0" fill="#363636"><textPath href="#tp5" textLength="80.0" lengthAdjust="spacingAndGlyphs">Accounting</textPath></text>
<path id="tp6" d="M1031.3,492.5 Q1062,503 1140,508.5" fill="none"/>
<text font-size="15.5" fill="#363636"><textPath href="#tp6" textLength="103.0" lengthAdjust="spacingAndGlyphs">Mind Mapping</textPath></text>
<path id="tp7" d="M811.6,493.5 Q860,491 910,481.5" fill="none"/>
<text font-size="15.0" fill="#363636"><textPath href="#tp7" textLength="96.0" lengthAdjust="spacingAndGlyphs">GST Knowhow</textPath></text>
<text x="596.2" y="459.8" font-size="15.0" fill="#363636" textLength="103.5" lengthAdjust="spacingAndGlyphs" transform="rotate(-7.95 596.2 459.8)" text-anchor="start" >GST Consultant</text>
<text transform="translate(1146.85,441.2) scale(1.1,1)" font-size="28.8" font-weight="bold" fill="#6aa0d8" stroke="#6aa0d8" stroke-width="0.7">€</text>
<text transform="translate(1172.57,440.64)" font-size="25" font-weight="bold" fill="#ffb340" stroke="#ffb340" stroke-width="0.5">$</text>
<path d="M1132.2,421 L1132.2,437.5" stroke="#a8a8a8" stroke-width="1.6"/>
<circle cx="1132.2" cy="421" r="1.1" fill="#b0b0b0"/>
<path d="M1125,423.2 Q1132.2,421.6 1139.4,423.2" fill="none" stroke="#a8a8a8" stroke-width="1.7"/>
<path d="M1125.4,423.5 L1123,430.5 M1125.4,423.5 L1130.7,430.5 M1139,423.5 L1133.6,430.5 M1139,423.5 L1141.7,430.5" stroke="#b8b8b8" stroke-width="0.7"/>
<path d="M1122.4,430.3 A4.3,5.3 0 0 0 1131.1,430.3 Z M1133.2,430.3 A4.3,5.3 0 0 0 1142,430.3 Z" fill="#f3cf08" stroke="#c89a10" stroke-width="0.6"/>
<path d="M1123.5,431.3 L1130,431.3 M1134.3,431.3 L1141,431.3" stroke="#fff4a0" stroke-width="0.8"/>
<path d="M1129,436.6 L1135.4,436.6 L1136.4,439.4 L1128,439.4 Z" fill="#a0a0a0"/>
<path d="M1099,461.5 C1097,458 1093,455 1088.5,454" fill="none" stroke="#f07020" stroke-width="1.5" stroke-linecap="round"/>
<path d="M1094,462.5 C1090,461 1086,460.5 1082,460" fill="none" stroke="#20b040" stroke-width="1.3" stroke-linecap="round"/>
<path d="M1094,468.5 C1088,469 1082,471 1076,471.5" fill="none" stroke="#2a22c0" stroke-width="1.5" stroke-linecap="round"/>
<path d="M1101,472 C1099,477 1094,480 1088,481" fill="none" stroke="#d0208a" stroke-width="1.4" stroke-linecap="round"/>
<path d="M1108,461.5 C1110,458.5 1113,456.5 1117,455.8" fill="none" stroke="#2070e0" stroke-width="1.3" stroke-linecap="round"/>
<path d="M1111,467.2 C1115,468.5 1119,469 1124,469" fill="none" stroke="#80c820" stroke-width="1.4" stroke-linecap="round"/>
<path d="M1104.5,472 C1106,476 1110,479.5 1120,480.3" fill="none" stroke="#7020d0" stroke-width="1.4" stroke-linecap="round"/>
<path d="M1076,471.5 L1071,472 M1076,471.5 L1072,468.5 M1076,471.5 L1073,474.5" fill="none" stroke="#8080e0" stroke-width="0.6" stroke-linecap="round"/>
<path d="M1088,481 L1082,480 M1088,481 L1082,483.5" fill="none" stroke="#e070c0" stroke-width="0.6" stroke-linecap="round"/>
<path d="M1117,455.8 L1122,452.5 M1117,455.8 L1123,456 M1117,455.8 L1122,459" fill="none" stroke="#60a0e8" stroke-width="0.6" stroke-linecap="round"/>
<path d="M1124,469 L1130,466 M1124,469 L1131,472" fill="none" stroke="#a0d060" stroke-width="0.6" stroke-linecap="round"/>
<path d="M1120,480.3 L1126,479 M1120,480.3 L1126,483" fill="none" stroke="#b080e0" stroke-width="0.6" stroke-linecap="round"/>
<path d="M1082,460 L1079,460" fill="none" stroke="#60c060" stroke-width="0.6" stroke-linecap="round"/>
<rect x="1081" y="451.3" width="5.2" height="2.6" fill="#f07020"/>
<rect x="1093.3" y="461.4" width="17.7" height="10.5" rx="2" fill="#3aa6ee"/>
<rect x="1093.8" y="461.8" width="16.7" height="4" rx="1.5" fill="#6cc4f6"/>
<text x="1102.2" y="468.8" font-size="4" fill="#fff" text-anchor="middle" textLength="13" lengthAdjust="spacingAndGlyphs">MindMap</text>
<rect x="1127.0" y="452.0" width="2" height="1.8" fill="#2a6ad0"/>
<rect x="1127.0" y="456.0" width="2" height="1.8" fill="#2060c0"/>
<rect x="1130.0" y="466.0" width="2" height="1.8" fill="#30303a"/>
<rect x="1132.0" y="472.0" width="2" height="1.8" fill="#202020"/>
<rect x="1126.0" y="481.0" width="2" height="1.8" fill="#30a040"/>
<rect x="1126.5" y="483.5" width="2" height="1.8" fill="#404040"/>
<rect x="1072.0" y="470.0" width="2" height="1.8" fill="#40a0e0"/>
<rect x="1071.0" y="473.0" width="2" height="1.8" fill="#60c040"/>
<rect x="1070.0" y="475.5" width="2" height="1.8" fill="#40a0f0"/>
<rect x="1081.0" y="479.5" width="2" height="1.8" fill="#d0d0e0"/>
<rect x="1081.0" y="482.5" width="2" height="1.8" fill="#6090d0"/>
<rect x="1090.0" y="454.5" width="4.0" height="0.7" fill="#666" opacity="0.6"/>
<rect x="1083.0" y="459.0" width="4.0" height="0.7" fill="#666" opacity="0.6"/>
<rect x="1077.0" y="467.5" width="5.0" height="0.7" fill="#666" opacity="0.6"/>
<rect x="1090.0" y="477.5" width="4.0" height="0.7" fill="#666" opacity="0.6"/>
<rect x="1113.0" y="454.0" width="4.0" height="0.7" fill="#666" opacity="0.6"/>
<rect x="1117.0" y="466.5" width="5.0" height="0.7" fill="#666" opacity="0.6"/>
<rect x="1110.0" y="477.5" width="5.0" height="0.7" fill="#666" opacity="0.6"/>
<rect x="1066.0" y="468.0" width="5.0" height="0.7" fill="#666" opacity="0.6"/>
<rect x="1066.0" y="472.5" width="6.0" height="0.7" fill="#666" opacity="0.6"/>
<rect x="1066.0" y="476.0" width="6.0" height="0.7" fill="#666" opacity="0.6"/>
<rect x="1072.0" y="480.0" width="6.0" height="0.7" fill="#666" opacity="0.6"/>
<rect x="1072.0" y="483.0" width="6.0" height="0.7" fill="#666" opacity="0.6"/>
<rect x="1119.0" y="452.0" width="6.0" height="0.7" fill="#666" opacity="0.6"/>
<rect x="1119.0" y="456.0" width="6.0" height="0.7" fill="#666" opacity="0.6"/>
<rect x="1120.0" y="470.5" width="5.0" height="0.7" fill="#666" opacity="0.6"/>
<rect x="1118.0" y="479.0" width="6.0" height="0.7" fill="#666" opacity="0.6"/>
<rect x="1118.0" y="482.0" width="6.0" height="0.7" fill="#666" opacity="0.6"/>
<path d="M545.4,383.6 L546.2,382.9 L547.2,382.1 L548.4,381.0 L549.7,379.9 L551.2,378.6 L552.7,377.3 L554.3,375.9 L555.9,374.5 L557.6,373.1 L559.2,371.7 L560.8,370.3 L562.3,369.0 L563.7,367.8 L565.2,366.7 L566.7,365.5 L568.3,364.4 L569.8,363.2 L571.4,362.0 L573.0,360.7 L574.6,359.4 L576.2,358.1 L577.8,356.7 L579.5,355.1 L581.1,353.6 L582.7,352.0 L584.4,350.3 L586.1,348.7 L587.8,346.9 L589.5,345.1 L591.2,343.2 L592.8,341.3 L594.5,339.4 L596.1,337.4 L597.8,335.4 L599.3,333.4 L600.9,331.3 L602.3,329.2 L603.6,327.0 L604.9,324.8 L606.2,322.5 L607.4,320.3 L608.6,318.0 L609.8,315.8 L610.9,313.5 L612.1,311.2 L613.2,308.9 L614.3,306.7 L615.5,304.4 L616.6,302.1 L617.8,299.8 L619.0,297.4 L620.2,295.0 L621.4,292.6 L622.5,290.2 L623.6,287.8 L624.7,285.5 L625.8,283.2 L626.9,280.9 L627.9,278.7 L629.0,276.6 L630.1,274.5 L631.2,272.5 L632.4,270.4 L633.5,268.4 L634.6,266.4 L635.7,264.4 L636.8,262.5 L637.8,260.6 L638.8,258.8 L639.7,257.1 L640.6,255.5 L641.5,253.9 L642.1,252.4 L642.7,250.8 L643.3,249.4 L643.8,248.0 L644.2,246.8 L644.6,245.6 L645.0,244.5 L645.3,243.5 L645.6,242.7 L645.9,242.0 L646.1,241.4 L646.3,240.9 L627.7,235.1 L627.5,235.8 L627.4,236.5 L627.2,237.3 L627.0,238.2 L626.7,239.1 L626.5,240.1 L626.2,241.1 L625.9,242.2 L625.6,243.4 L625.2,244.6 L624.8,245.9 L624.3,247.3 L623.9,248.8 L623.5,250.5 L623.0,252.3 L622.5,254.2 L621.9,256.2 L621.3,258.3 L620.6,260.4 L619.9,262.5 L619.2,264.7 L618.5,266.9 L617.8,269.2 L617.0,271.4 L616.2,273.6 L615.3,275.9 L614.4,278.2 L613.4,280.6 L612.5,283.0 L611.5,285.4 L610.5,287.8 L609.6,290.2 L608.6,292.6 L607.6,295.0 L606.6,297.3 L605.5,299.6 L604.5,301.9 L603.4,304.2 L602.3,306.5 L601.2,308.7 L600.2,311.0 L599.1,313.2 L598.0,315.3 L596.9,317.5 L595.7,319.6 L594.6,321.7 L593.4,323.7 L592.1,325.7 L590.9,327.7 L589.7,329.7 L588.4,331.7 L587.0,333.7 L585.7,335.7 L584.3,337.6 L582.8,339.5 L581.4,341.4 L580.0,343.3 L578.5,345.0 L577.1,346.8 L575.7,348.4 L574.3,349.9 L572.9,351.4 L571.4,352.7 L570.0,354.1 L568.5,355.3 L567.0,356.6 L565.6,357.8 L564.1,359.1 L562.6,360.3 L561.1,361.6 L559.6,362.9 L558.1,364.2 L556.6,365.5 L555.0,366.9 L553.4,368.3 L551.8,369.8 L550.2,371.2 L548.6,372.7 L547.1,374.0 L545.7,375.3 L544.4,376.5 L543.2,377.5 L542.2,378.4 L541.4,379.2 Z" fill="#2426A6"/>
<rect x="337.8" y="368.6" width="204.4" height="34" rx="7" fill="#fff" stroke="#2426A6" stroke-width="2"/>
<text x="345.0" y="391.7" font-size="20.5" fill="#363636" textLength="186.0" lengthAdjust="spacingAndGlyphs" text-anchor="start" >GST System Changes</text>
<path d="M336.7,383.0 L335.3,381.5 L333.5,379.5 L331.4,377.2 L329.1,374.6 L326.5,371.8 L323.8,368.8 L321.0,365.8 L318.2,362.8 L315.4,359.9 L312.7,357.2 L310.2,354.7 L307.9,352.6 L305.7,350.8 L303.7,349.1 L301.7,347.5 L299.7,346.0 L297.8,344.7 L295.9,343.4 L294.0,342.2 L292.1,341.1 L290.1,340.1 L288.2,339.1 L286.1,338.2 L284.0,337.4 L282.1,336.6 L280.3,336.0 L278.6,335.4 L277.0,334.9 L275.4,334.5 L273.7,334.1 L271.7,333.8 L269.6,333.5 L267.1,333.3 L264.2,333.0 L260.8,332.8 L256.8,332.5 L251.9,332.3 L246.0,332.0 L239.4,331.8 L232.2,331.6 L224.7,331.4 L217.0,331.2 L209.4,331.1 L202.2,331.0 L195.4,330.8 L189.5,330.7 L184.5,330.6 L180.6,330.6 L180.6,332.0 L184.4,332.2 L189.4,332.3 L195.4,332.5 L202.1,332.6 L209.4,332.8 L216.9,333.1 L224.6,333.3 L232.1,333.5 L239.3,333.8 L245.9,334.1 L251.8,334.4 L256.6,334.7 L260.6,335.0 L264.0,335.3 L266.9,335.5 L269.3,335.8 L271.4,336.1 L273.2,336.4 L274.9,336.7 L276.4,337.1 L277.9,337.6 L279.5,338.2 L281.2,338.8 L283.2,339.6 L285.2,340.5 L287.1,341.4 L289.0,342.3 L290.9,343.3 L292.7,344.4 L294.5,345.5 L296.3,346.7 L298.2,348.1 L300.1,349.5 L302.0,351.1 L304.0,352.8 L306.1,354.6 L308.4,356.7 L310.8,359.1 L313.5,361.8 L316.2,364.7 L319.0,367.7 L321.7,370.7 L324.4,373.7 L326.9,376.5 L329.2,379.2 L331.3,381.5 L333.1,383.5 L334.5,385.0 Z" fill="#2426A6"/>
<path d="M336.2,382.6 L333.7,381.6 L330.8,380.3 L327.3,378.7 L323.5,376.9 L319.2,374.9 L314.6,372.9 L309.8,370.8 L304.8,368.8 L299.7,366.9 L294.4,365.1 L289.1,363.6 L283.9,362.3 L278.6,361.3 L273.3,360.5 L267.8,359.7 L262.3,359.1 L256.6,358.6 L250.7,358.2 L244.7,357.9 L238.6,357.6 L232.2,357.3 L225.7,357.1 L219.0,356.9 L212.0,356.6 L204.5,356.4 L196.1,356.3 L187.2,356.2 L177.8,356.1 L168.3,356.1 L158.8,356.1 L149.5,356.1 L140.7,356.2 L132.6,356.2 L125.4,356.2 L119.3,356.3 L114.5,356.3 L114.5,357.7 L119.3,357.8 L125.4,357.8 L132.6,357.8 L140.7,357.8 L149.5,357.8 L158.8,357.9 L168.3,357.9 L177.8,358.0 L187.1,358.1 L196.1,358.3 L204.4,358.5 L212.0,358.8 L218.9,359.1 L225.6,359.3 L232.1,359.6 L238.5,359.9 L244.6,360.2 L250.6,360.6 L256.4,361.1 L262.0,361.6 L267.5,362.2 L272.9,363.0 L278.2,363.9 L283.3,364.9 L288.4,366.1 L293.6,367.7 L298.7,369.4 L303.8,371.4 L308.7,373.4 L313.5,375.5 L318.0,377.5 L322.2,379.5 L326.1,381.3 L329.5,383.0 L332.5,384.3 L335.0,385.4 Z" fill="#2426A6"/>
<path d="M335.6,382.2 L331.6,382.3 L326.7,382.3 L321.1,382.3 L314.8,382.3 L307.8,382.3 L300.4,382.3 L292.6,382.3 L284.4,382.3 L276.0,382.3 L267.4,382.3 L258.7,382.3 L250.0,382.4 L240.7,382.4 L230.4,382.4 L219.2,382.4 L207.5,382.4 L195.6,382.4 L183.7,382.4 L172.0,382.4 L161.0,382.5 L150.8,382.5 L141.7,382.5 L134.0,382.5 L128.0,382.5 L128.0,385.5 L134.0,385.5 L141.7,385.5 L150.8,385.5 L161.0,385.5 L172.0,385.6 L183.7,385.6 L195.6,385.6 L207.5,385.6 L219.2,385.6 L230.4,385.6 L240.7,385.6 L250.0,385.6 L258.7,385.7 L267.4,385.7 L276.0,385.7 L284.4,385.7 L292.6,385.7 L300.4,385.7 L307.8,385.7 L314.8,385.7 L321.1,385.7 L326.7,385.7 L331.6,385.7 L335.6,385.8 Z" fill="#2426A6"/>
<path d="M335.0,382.6 L332.4,383.7 L329.2,385.2 L325.4,387.0 L321.1,389.0 L316.4,391.1 L311.5,393.3 L306.5,395.5 L301.4,397.7 L296.5,399.7 L291.7,401.5 L287.3,403.1 L283.2,404.4 L279.7,405.3 L276.7,406.0 L274.0,406.6 L271.6,407.0 L269.2,407.3 L266.8,407.5 L264.2,407.6 L261.3,407.7 L257.9,407.8 L253.9,407.8 L249.2,407.9 L243.7,408.1 L236.9,408.2 L228.9,408.4 L219.8,408.5 L210.0,408.5 L199.8,408.6 L189.4,408.6 L179.1,408.7 L169.2,408.7 L160.1,408.7 L152.0,408.7 L145.2,408.7 L140.0,408.8 L140.0,410.2 L145.2,410.3 L152.0,410.3 L160.1,410.3 L169.2,410.4 L179.1,410.5 L189.4,410.5 L199.8,410.5 L210.0,410.6 L219.8,410.6 L228.9,410.5 L237.0,410.5 L243.7,410.3 L249.2,410.2 L253.9,410.2 L257.9,410.1 L261.3,410.1 L264.3,410.1 L267.0,410.0 L269.5,409.8 L271.9,409.5 L274.5,409.1 L277.3,408.5 L280.4,407.8 L284.0,406.8 L288.1,405.6 L292.6,404.0 L297.5,402.2 L302.5,400.2 L307.6,398.1 L312.7,395.9 L317.6,393.7 L322.3,391.6 L326.6,389.6 L330.4,387.9 L333.7,386.5 L336.2,385.4 Z" fill="#2426A6"/>
<path d="M334.5,383.0 L333.1,384.5 L331.3,386.5 L329.2,388.8 L326.9,391.5 L324.4,394.3 L321.7,397.3 L319.0,400.3 L316.2,403.3 L313.5,406.1 L310.9,408.7 L308.4,411.0 L306.2,413.0 L304.1,414.6 L302.2,416.0 L300.4,417.3 L298.7,418.4 L297.1,419.3 L295.4,420.2 L293.7,421.0 L292.0,421.7 L290.1,422.4 L288.0,423.1 L285.8,423.8 L283.3,424.5 L280.7,425.2 L278.1,425.9 L275.5,426.6 L272.8,427.1 L270.0,427.7 L267.1,428.2 L263.9,428.7 L260.5,429.2 L256.8,429.6 L252.8,430.0 L248.4,430.4 L243.6,430.7 L238.1,431.1 L231.6,431.3 L224.4,431.6 L216.7,431.8 L208.7,432.0 L200.6,432.1 L192.7,432.3 L185.1,432.4 L178.1,432.5 L171.9,432.6 L166.6,432.7 L162.6,432.8 L162.6,434.2 L166.7,434.2 L171.9,434.2 L178.1,434.1 L185.2,434.1 L192.7,434.0 L200.7,433.9 L208.7,433.8 L216.7,433.7 L224.4,433.6 L231.7,433.4 L238.2,433.1 L243.8,432.9 L248.6,432.6 L253.0,432.2 L257.1,431.8 L260.8,431.4 L264.2,431.0 L267.4,430.5 L270.4,430.0 L273.3,429.5 L276.0,428.9 L278.7,428.3 L281.3,427.6 L283.9,426.9 L286.5,426.2 L288.8,425.5 L290.9,424.8 L292.9,424.1 L294.8,423.3 L296.6,422.5 L298.3,421.6 L300.1,420.6 L301.9,419.4 L303.8,418.1 L305.7,416.7 L307.8,415.0 L310.2,413.0 L312.7,410.7 L315.4,408.1 L318.2,405.2 L321.0,402.2 L323.8,399.2 L326.5,396.3 L329.1,393.4 L331.4,390.8 L333.5,388.5 L335.3,386.5 L336.7,385.0 Z" fill="#2426A6"/>
<path d="M334.4,383.1 L332.9,385.2 L331.1,387.8 L328.9,391.0 L326.5,394.5 L323.8,398.3 L321.0,402.3 L318.2,406.3 L315.2,410.4 L312.3,414.3 L309.4,417.9 L306.6,421.2 L304.0,424.1 L301.6,426.6 L299.2,429.0 L297.0,431.2 L294.7,433.2 L292.5,435.1 L290.3,436.9 L288.0,438.6 L285.6,440.2 L283.0,441.7 L280.2,443.2 L277.3,444.6 L274.0,446.1 L270.6,447.5 L267.2,448.8 L263.7,450.0 L260.1,451.2 L256.4,452.3 L252.5,453.3 L248.3,454.3 L243.9,455.2 L239.2,456.1 L234.1,456.9 L228.7,457.7 L222.9,458.5 L216.3,459.1 L208.6,459.8 L200.2,460.3 L191.2,460.8 L181.9,461.2 L172.6,461.6 L163.4,462.0 L154.7,462.3 L146.6,462.6 L139.4,462.8 L133.4,463.0 L128.7,463.3 L128.7,464.7 L133.4,464.6 L139.5,464.4 L146.7,464.2 L154.8,464.0 L163.5,463.7 L172.7,463.4 L182.0,463.1 L191.3,462.7 L200.3,462.3 L208.7,461.8 L216.4,461.2 L223.1,460.5 L229.0,459.8 L234.5,459.1 L239.6,458.3 L244.3,457.4 L248.8,456.5 L253.0,455.6 L257.0,454.5 L260.8,453.4 L264.5,452.3 L268.0,451.0 L271.5,449.7 L275.0,448.3 L278.3,446.9 L281.4,445.4 L284.2,443.9 L286.9,442.3 L289.4,440.6 L291.8,438.9 L294.2,437.1 L296.5,435.1 L298.8,433.1 L301.1,430.8 L303.5,428.5 L306.0,425.9 L308.7,423.0 L311.5,419.6 L314.4,416.0 L317.4,412.0 L320.4,408.0 L323.4,403.9 L326.2,400.0 L328.9,396.2 L331.3,392.6 L333.5,389.5 L335.3,386.9 L336.8,384.9 Z" fill="#2426A6"/>
<path d="M334.2,383.4 L333.2,385.7 L332.0,388.6 L330.5,392.0 L328.9,395.9 L327.1,400.1 L325.2,404.5 L323.3,409.0 L321.3,413.5 L319.3,417.9 L317.4,422.0 L315.5,425.9 L313.8,429.4 L312.2,432.5 L310.6,435.6 L309.0,438.5 L307.5,441.3 L306.0,444.0 L304.5,446.6 L303.0,449.1 L301.4,451.5 L299.7,453.9 L298.0,456.2 L296.1,458.5 L294.1,460.8 L292.0,463.0 L290.0,465.2 L287.9,467.3 L285.8,469.4 L283.7,471.4 L281.4,473.3 L279.1,475.2 L276.5,476.9 L273.7,478.6 L270.7,480.2 L267.4,481.7 L263.8,483.1 L259.9,484.4 L255.6,485.6 L251.0,486.7 L246.2,487.6 L241.2,488.5 L235.9,489.3 L230.6,490.1 L225.1,490.8 L219.5,491.5 L213.8,492.2 L208.2,492.8 L202.5,493.4 L196.5,494.1 L190.1,494.7 L183.2,495.2 L176.1,495.8 L168.9,496.3 L161.7,496.7 L154.8,497.2 L148.3,497.6 L142.2,497.9 L136.8,498.2 L132.3,498.5 L128.7,498.8 L128.7,500.2 L132.4,500.0 L136.9,499.8 L142.3,499.5 L148.4,499.2 L154.9,498.8 L161.9,498.4 L169.0,498.0 L176.2,497.5 L183.3,497.1 L190.2,496.5 L196.7,496.0 L202.7,495.4 L208.4,494.7 L214.0,494.1 L219.7,493.5 L225.3,492.9 L230.8,492.2 L236.2,491.4 L241.5,490.6 L246.6,489.8 L251.5,488.8 L256.1,487.8 L260.5,486.6 L264.6,485.3 L268.3,483.8 L271.8,482.3 L274.9,480.7 L277.8,478.9 L280.5,477.1 L283.0,475.2 L285.3,473.2 L287.5,471.1 L289.7,469.0 L291.7,466.9 L293.8,464.7 L295.9,462.4 L298.0,460.1 L299.9,457.8 L301.8,455.4 L303.5,453.0 L305.2,450.5 L306.8,447.9 L308.3,445.3 L309.8,442.6 L311.4,439.7 L312.9,436.8 L314.5,433.8 L316.2,430.6 L318.0,427.1 L319.9,423.2 L321.9,419.0 L323.9,414.6 L325.9,410.1 L327.9,405.6 L329.8,401.2 L331.6,397.0 L333.2,393.2 L334.7,389.8 L336.0,386.9 L337.0,384.6 Z" fill="#2426A6"/>
<path d="M128.7,382.9 L127.8,382.1 L126.8,381.1 L125.5,380.0 L124.1,378.7 L122.5,377.3 L120.9,375.8 L119.2,374.2 L117.4,372.7 L115.7,371.2 L114.0,369.7 L112.4,368.3 L110.9,367.0 L109.5,365.7 L108.1,364.5 L106.7,363.3 L105.3,362.0 L103.9,360.8 L102.5,359.6 L101.1,358.4 L99.7,357.3 L98.2,356.2 L96.8,355.2 L95.3,354.2 L93.8,353.4 L92.4,352.7 L91.3,352.1 L90.2,351.5 L89.2,351.0 L88.2,350.6 L87.0,350.2 L85.8,349.9 L84.2,349.6 L82.5,349.3 L80.3,349.1 L77.8,348.9 L74.7,348.7 L70.8,348.5 L66.1,348.4 L60.8,348.3 L55.0,348.2 L48.9,348.2 L42.6,348.2 L36.5,348.2 L30.6,348.2 L25.1,348.2 L20.2,348.2 L16.1,348.3 L13.0,348.3 L13.0,349.7 L16.1,349.8 L20.2,349.8 L25.1,349.9 L30.6,349.9 L36.5,350.0 L42.6,350.0 L48.9,350.1 L55.0,350.2 L60.8,350.3 L66.1,350.5 L70.7,350.7 L74.5,350.9 L77.6,351.2 L80.1,351.4 L82.2,351.6 L83.9,351.9 L85.2,352.2 L86.4,352.5 L87.3,352.8 L88.2,353.2 L89.1,353.7 L90.1,354.2 L91.3,354.9 L92.6,355.6 L94.0,356.4 L95.4,357.3 L96.8,358.2 L98.1,359.3 L99.5,360.4 L100.8,361.5 L102.2,362.7 L103.5,364.0 L104.9,365.2 L106.3,366.5 L107.7,367.8 L109.1,369.0 L110.6,370.3 L112.2,371.7 L113.8,373.2 L115.5,374.8 L117.2,376.4 L118.9,377.9 L120.6,379.4 L122.1,380.8 L123.5,382.2 L124.8,383.3 L125.8,384.3 L126.7,385.1 Z" fill="#2426A6"/>
<path d="M126.9,382.7 L125.6,383.6 L124.1,384.7 L122.2,386.0 L120.1,387.4 L117.9,389.0 L115.5,390.6 L113.1,392.2 L110.7,393.8 L108.3,395.4 L106.0,396.8 L103.9,398.0 L102.0,399.1 L100.3,399.9 L98.9,400.7 L97.7,401.4 L96.7,401.9 L95.7,402.4 L94.7,402.8 L93.6,403.2 L92.3,403.5 L90.8,403.8 L88.9,404.1 L86.7,404.4 L83.9,404.7 L80.5,404.9 L76.4,405.1 L71.7,405.2 L66.6,405.3 L61.2,405.4 L55.7,405.4 L50.3,405.4 L45.2,405.4 L40.4,405.4 L36.1,405.4 L32.5,405.4 L29.8,405.5 L29.8,406.9 L32.5,407.0 L36.1,407.0 L40.4,407.1 L45.2,407.1 L50.3,407.2 L55.7,407.3 L61.2,407.3 L66.6,407.3 L71.7,407.3 L76.4,407.3 L80.6,407.1 L84.1,406.9 L86.9,406.7 L89.2,406.5 L91.2,406.2 L92.9,405.9 L94.3,405.5 L95.5,405.1 L96.7,404.7 L97.8,404.2 L98.9,403.6 L100.1,402.9 L101.5,402.2 L103.2,401.3 L105.2,400.3 L107.4,399.1 L109.7,397.7 L112.2,396.1 L114.6,394.5 L117.1,392.9 L119.5,391.3 L121.8,389.8 L123.9,388.4 L125.7,387.1 L127.3,386.1 L128.5,385.3 Z" fill="#2426A6"/>
<text x="190.6" y="326.9" font-size="14.7" fill="#363636" textLength="72.9" lengthAdjust="spacingAndGlyphs" text-anchor="start" >Education</text>
<text x="124.5" y="352.0" font-size="13.9" fill="#363636" textLength="78.4" lengthAdjust="spacingAndGlyphs" text-anchor="start" >GST Review</text>
<text x="139.1" y="377.2" font-size="14.8" fill="#363636" textLength="115.4" lengthAdjust="spacingAndGlyphs" text-anchor="start" >GST Compliance</text>
<text x="149.8" y="403.0" font-size="14.7" fill="#363636" textLength="90.4" lengthAdjust="spacingAndGlyphs" text-anchor="start" >GST Transition</text>
<text x="172.3" y="427.0" font-size="15.2" fill="#363636" textLength="65.4" lengthAdjust="spacingAndGlyphs" text-anchor="start" >GST Audit</text>
<path id="tp8" d="M139.7,456.8 Q210,455.5 270,448" fill="none"/>
<text font-size="14.2" fill="#363636"><textPath href="#tp8" textLength="126.5" lengthAdjust="spacingAndGlyphs">GST Reconciliation</textPath></text>
<path id="tp9" d="M139.7,491.4 Q205,489.5 260,480.5" fill="none"/>
<text font-size="13.8" fill="#363636"><textPath href="#tp9" textLength="117.0" lengthAdjust="spacingAndGlyphs">GST Pivot Analysis</textPath></text>
<text x="23.0" y="344.6" font-size="11.9" fill="#363636" textLength="65.4" lengthAdjust="spacingAndGlyphs" text-anchor="start" >Mechanism</text>
<text x="38.8" y="400.2" font-size="12.2" fill="#363636" textLength="49.7" lengthAdjust="spacingAndGlyphs" text-anchor="start" >Software</text>
<text x="401.6" y="520.6" font-size="14" textLength="316" lengthAdjust="spacingAndGlyphs"><tspan fill="#3a8a1a">© </tspan><tspan fill="#1f8f2a">Copy</tspan><tspan fill="#5a3a7a">rig</tspan><tspan fill="#ff1a30">ht SW </tspan><tspan fill="#2a1aff">Proj</tspan><tspan fill="#ff7a1a">ect </tspan><tspan fill="#8a4a2a">Con</tspan><tspan fill="#2a2a8a">sult</tspan><tspan fill="#ff20e0">ing </tspan><tspan fill="#1f8f2a">Sdn </tspan><tspan fill="#ff1a20">Bhd</tspan></text>
<clipPath id="phc"><rect x="578" y="124" width="168" height="127"/></clipPath>
<g clip-path="url(#phc)">
<rect x="578" y="124" width="168" height="127" fill="#17131a"/>
<rect x="680" y="124" width="66" height="80" fill="url(#curtR)"/>
<rect x="676" y="124" width="70" height="30" fill="url(#topfade)"/>
<ellipse cx="726" cy="128" rx="14" ry="6" fill="#4a0c0a" opacity="0.3"/>
<path d="M627,124 L684,124 L684,196 L627,196 Z" fill="#2a1f1a"/>
<path d="M627.3,131.7 L676.7,136.6 L676.7,188.8 L627.3,190.5 Z" fill="url(#scr)"/>
<path d="M642,137 L664,140" stroke="#5a7a9a" stroke-width="0.9"/><path d="M650,164 C654,158 660,156 666,158" fill="none" stroke="#4a80c0" stroke-width="0.8"/>
<path d="M578,124 L627,124 L627,207.7 L578,210.7 Z" fill="url(#curt)"/>
<rect x="578" y="124" width="49" height="50" fill="url(#curtTop)"/>
<path d="M627,194 L700,191 L700,200 L627,205 Z" fill="#7a4a22"/>
<path d="M627,194 L690,192 L690,195 L627,197.5 Z" fill="#a8702e" opacity="0.7"/>
<path d="M578,210.7 L627,205 L700,200 L746,198 L746,251 L578,251 Z" fill="#1a1519"/>
<path d="M578,230 L746,215 L746,251 L578,251 Z" fill="#120e11" opacity="0.7"/>
<rect x="685" y="193" width="31" height="5" fill="#cdb088"/>
<path d="M687,198 L687,207 M693,198 L693,207 M699,198 L699,206 M705,198 L705,205 M711,198 L711,204" stroke="#2a2020" stroke-width="1.6"/>
<rect x="686" y="198" width="29" height="4" fill="#8a6a4a" opacity="0.6"/>
<path d="M647,172 C650,169 660,169 664,172 L666,190 L664,200 L662,232 L650,232 L649,200 L646,190 Z" fill="#16161e"/>
<path d="M654.5,170 L656.5,176 L658.5,170 Z" fill="#d8d8e0"/>
<ellipse cx="656" cy="165" rx="4" ry="4.8" fill="#8a6048"/>
<path d="M652,162 C653,159 659,159 660,162 L660,164 L652,164 Z" fill="#15100e"/>
<path d="M668,172 L686,172 L686,224 L668,224 Z" fill="#2a2220"/>
<path d="M664,220 L690,218 L693,228 L666,231 Z" fill="#2e2622"/>
<path d="M672,170 L686,168" stroke="#8a7a70" stroke-width="1.2"/>
<path d="M676,172 L676,240 M645,200 L652,240 M660,200 L666,240" stroke="#3a2218" stroke-width="0.9"/>
</g>
<text x="598.2" y="194" font-size="19.2" fill="#fff" textLength="124" lengthAdjust="spacingAndGlyphs">Stanley Wong</text>
</svg>
</body></html>
